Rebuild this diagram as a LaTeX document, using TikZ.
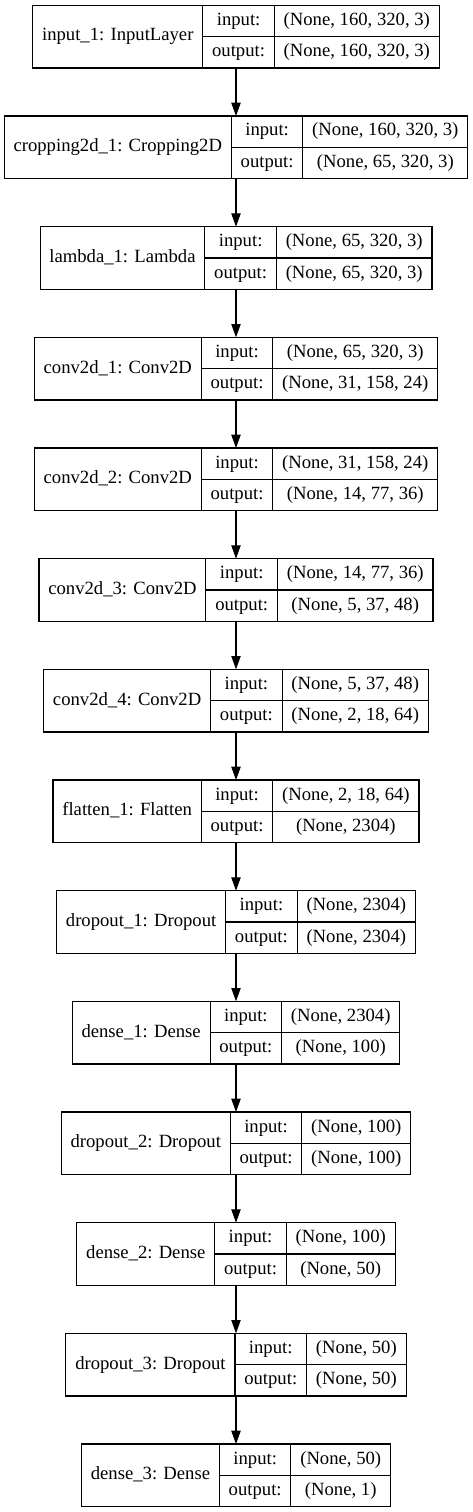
\documentclass[tikz,border=0pt]{standalone}
\usepackage{fontspec}
\setmainfont{Liberation Serif}
\usetikzlibrary{arrows.meta}
\newlength\LwA \newlength\LwB \newlength\LwC \newlength\LwD \newlength\LwT
\newcommand\gvfont{\fontsize{14}{16}\selectfont}
\tikzset{
  cell/.style={draw=black, line width=0.8pt, inner sep=0pt, outer sep=0pt,
    font=\gvfont, text height=10pt, text depth=3.5pt, align=center},
  layer/.style={inner sep=0pt, outer sep=0pt, minimum height=47pt},
  edge/.style={draw=black, line width=0.8pt, -{Triangle[length=10pt,width=7pt]}}
}
% measured outside the picture: #1 name, #2 label, #3 input shape, #4 output shape
\newcommand\deflayer[4]{%
  \settowidth\LwA{\gvfont #2}\addtolength\LwA{14pt}%
  \settowidth\LwB{\gvfont output:}\addtolength\LwB{14pt}%
  \settowidth\LwC{\gvfont #3}\settowidth\LwD{\gvfont #4}%
  \ifdim\LwD>\LwC \LwC=\LwD\fi
  \addtolength\LwC{14pt}%
  \LwT=\LwA \addtolength\LwT{\LwB}\addtolength\LwT{\LwC}%
  \expandafter\xdef\csname wA@#1\endcsname{\the\LwA}%
  \expandafter\xdef\csname wB@#1\endcsname{\the\LwB}%
  \expandafter\xdef\csname wC@#1\endcsname{\the\LwC}%
  \expandafter\xdef\csname wT@#1\endcsname{\the\LwT}%
  \expandafter\gdef\csname tA@#1\endcsname{#2}%
  \expandafter\gdef\csname tI@#1\endcsname{#3}%
  \expandafter\gdef\csname tO@#1\endcsname{#4}%
}
% drawn inside the picture: #1 name, #2 top (pt, downward)
\newcommand\layerbox[2]{%
  \node[layer, minimum width=\csname wT@#1\endcsname] (#1) at (177pt,{-(#2pt+23.5pt)}) {};
  \node[cell, minimum width=\csname wA@#1\endcsname, minimum height=47pt, anchor=north west] (#1-name) at (#1.north west) {\csname tA@#1\endcsname};
  \node[cell, minimum width=\csname wB@#1\endcsname, minimum height=23.5pt, anchor=north west] (#1-inl) at (#1-name.north east) {input:};
  \node[cell, minimum width=\csname wB@#1\endcsname, minimum height=23.5pt, anchor=north west] (#1-outl) at (#1-inl.south west) {output:};
  \node[cell, minimum width=\csname wC@#1\endcsname, minimum height=23.5pt, anchor=north west] (#1-inv) at (#1-inl.north east) {\csname tI@#1\endcsname};
  \node[cell, minimum width=\csname wC@#1\endcsname, minimum height=23.5pt, anchor=north west] (#1-outv) at (#1-outl.north east) {\csname tO@#1\endcsname};
}
\begin{document}%
\deflayer{L1}{input\_1: InputLayer}{(None, 160, 320, 3)}{(None, 160, 320, 3)}%
\deflayer{L2}{cropping2d\_1: Cropping2D}{(None, 160, 320, 3)}{(None, 65, 320, 3)}%
\deflayer{L3}{lambda\_1: Lambda}{(None, 65, 320, 3)}{(None, 65, 320, 3)}%
\deflayer{L4}{conv2d\_1: Conv2D}{(None, 65, 320, 3)}{(None, 31, 158, 24)}%
\deflayer{L5}{conv2d\_2: Conv2D}{(None, 31, 158, 24)}{(None, 14, 77, 36)}%
\deflayer{L6}{conv2d\_3: Conv2D}{(None, 14, 77, 36)}{(None, 5, 37, 48)}%
\deflayer{L7}{conv2d\_4: Conv2D}{(None, 5, 37, 48)}{(None, 2, 18, 64)}%
\deflayer{L8}{flatten\_1: Flatten}{(None, 2, 18, 64)}{(None, 2304)}%
\deflayer{L9}{dropout\_1: Dropout}{(None, 2304)}{(None, 2304)}%
\deflayer{L10}{dense\_1: Dense}{(None, 2304)}{(None, 100)}%
\deflayer{L11}{dropout\_2: Dropout}{(None, 100)}{(None, 100)}%
\deflayer{L12}{dense\_2: Dense}{(None, 100)}{(None, 50)}%
\deflayer{L13}{dropout\_3: Dropout}{(None, 50)}{(None, 50)}%
\deflayer{L14}{dense\_3: Dense}{(None, 50)}{(None, 1)}%
\begin{tikzpicture}
\useasboundingbox (0,0) rectangle (354.75pt,-1134pt);
\layerbox{L1}{4}
\layerbox{L2}{87}
\layerbox{L3}{170}
\layerbox{L4}{253}
\layerbox{L5}{336}
\layerbox{L6}{419}
\layerbox{L7}{502}
\layerbox{L8}{585}
\layerbox{L9}{668}
\layerbox{L10}{751}
\layerbox{L11}{834}
\layerbox{L12}{917}
\layerbox{L13}{1000}
\layerbox{L14}{1083}
\foreach \a/\b in {L1/L2,L2/L3,L3/L4,L4/L5,L5/L6,L6/L7,L7/L8,L8/L9,L9/L10,L10/L11,L11/L12,L12/L13,L13/L14}
  \draw[edge] (\a.south) -- (\b.north);
\end{tikzpicture}%
\end{document}
